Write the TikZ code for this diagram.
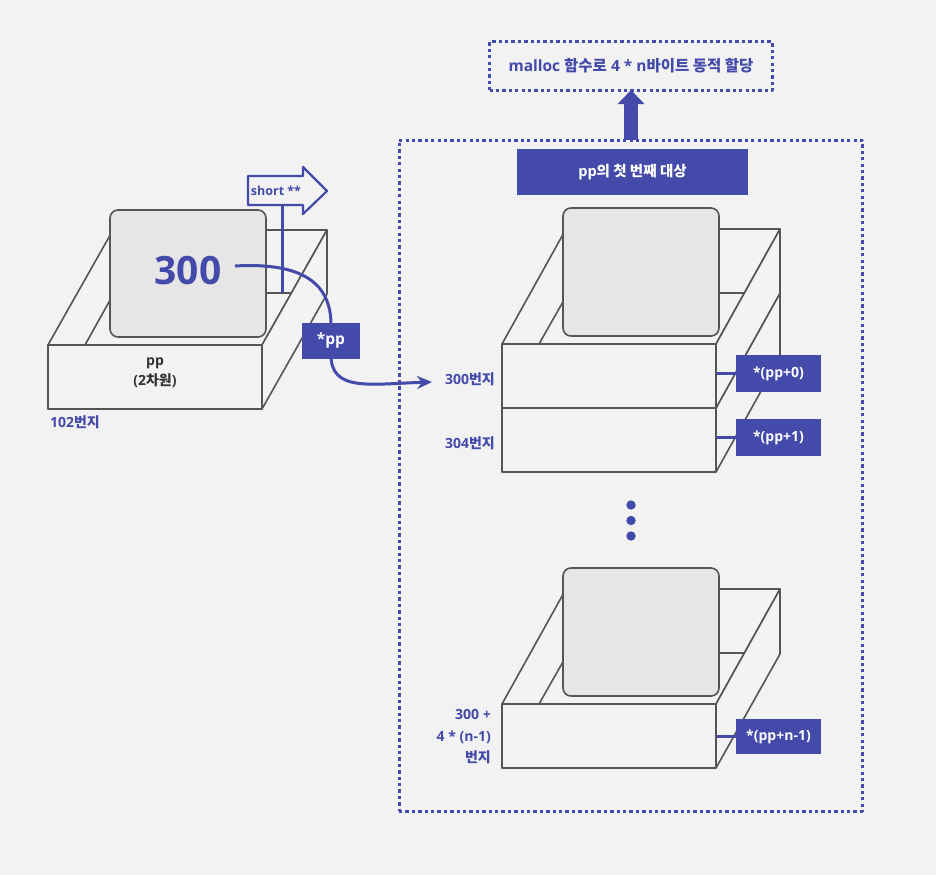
\documentclass[tikz,border=0pt]{standalone}
\usepackage{fontspec}
\setmainfont{Open Sans}
\newfontfamily\kr{Noto Sans CJK KR}
\usetikzlibrary{arrows.meta}
\definecolor{bg}{HTML}{F2F2F2}
\definecolor{facefill}{HTML}{F3F3F3}
\definecolor{cardfill}{HTML}{E6E6E6}
\definecolor{edge}{HTML}{555555}
\definecolor{ink}{HTML}{434AAA}
\definecolor{dark}{HTML}{333333}
\tikzset{
  wire/.style={draw=edge, line width=1.6pt},
  face/.style={draw=edge, fill=facefill, line width=1.6pt},
  card/.style={draw=edge, fill=cardfill, line width=1.6pt, rounded corners=8pt, inner sep=0pt},
  frontbox/.style={draw=edge, fill=facefill, line width=1.6pt, inner sep=0pt, minimum width=214pt, minimum height=64pt},
  tag/.style={fill=ink, text=white, font=\bfseries\fontsize{14}{16}\selectfont, inner sep=0pt, minimum width=85pt, minimum height=37pt},
  dotline/.style={draw=ink, line width=3pt, dash pattern=on 3.3pt off 3.1pt},
  lbl/.style={text=ink, font=\bfseries\fontsize{14}{21.5}\selectfont, inner sep=0pt},
  link/.style={draw=ink, line width=3.2pt},
}
\begin{document}
\begin{tikzpicture}[x=1pt,y=-1pt,line join=round]
\useasboundingbox[fill=bg] (0,0) rectangle (936,875);

% ---------- left box (pp) ----------
\draw[face] (48,345) -- (113,230) -- (327,230) -- (262,345) -- cycle;
\draw[wire] (85,345) -- (114,293) -- (291,293);
\draw[face] (262,345) -- (327,230) -- (327,294) -- (262,409) -- cycle;
\node (lfront) [frontbox, minimum width=214pt, minimum height=64pt] at (155,377) {};
\node (lcard) [card, minimum width=156pt, minimum height=127pt] at (188,273.5) {};
\node (v300) at (188,271) [text=ink, font=\bfseries\fontsize{39}{40}\selectfont, inner sep=0pt] {300};
\node (ppname) at (155,373) [align=center, text=dark, font=\bfseries\fontsize{14}{20}\selectfont] {pp\\(2{\kr 차원})};
\node (addr102) at (75,422) [lbl] {102{\kr 번지}};

% signpost
\coordinate (poletop) at (282,205);
\coordinate (polebot) at (282,293);
\draw[ink, line width=3pt] (poletop) -- (polebot);
\draw[ink, line width=2.2pt, fill=bg] (248,176) -- (303,176) -- (303,167) -- (327,191) -- (303,214) -- (303,205) -- (248,205) -- cycle;
\node (sign) at (276,190.5) [text=ink, font=\bfseries\fontsize{12.5}{14}\selectfont, inner sep=0pt] {short **};

% ---------- right container ----------
\node (cont) [dotline, minimum width=463pt, minimum height=671pt, inner sep=0pt] at (630.5,475.5) {};
\node (mal) [dotline, minimum width=283pt, minimum height=48pt, inner sep=0pt, text=ink, font=\bfseries\fontsize{15.5}{18}\selectfont] at (631,66) {malloc {\kr 함수로} 4 * n{\kr 바이트 동적 할당}};
\coordinate (arrbase) at (631,140);
\draw[ink, line width=14pt, -{Triangle[length=14pt,width=26pt]}] (arrbase) -- ([yshift=1.5pt]mal.south);
\node (first) [tag, minimum width=231pt, minimum height=46pt, font=\bfseries\fontsize{14.5}{16}\selectfont] at (632.5,172) {pp{\kr 의 첫 번째 대상}};

% box 0 / 1
\draw[face] (502,344) -- (566,229) -- (780,229) -- (716,344) -- cycle;
\draw[wire] (539,344) -- (568,293) -- (745,293);
\draw[face] (716,408) -- (780,293) -- (780,357) -- (716,472) -- cycle;
\draw[face] (716,344) -- (780,229) -- (780,293) -- (716,408) -- cycle;
\node (f0) [frontbox] at (609,376) {};
\node (f1) [frontbox] at (609,440) {};
\node (c0) [card, minimum width=156pt, minimum height=128pt] at (641,272) {};

% box n-1
\draw[face] (502,704) -- (566,589) -- (780,589) -- (716,704) -- cycle;
\draw[wire] (539,704) -- (568,653) -- (745,653);
\draw[face] (716,704) -- (780,589) -- (780,654) -- (716,768) -- cycle;
\node (fn) [frontbox] at (609,736) {};
\node (cn) [card, minimum width=156pt, minimum height=128pt] at (641,632) {};

% tags
\node (t0) [tag] at (778.5,373.5) {*(pp+0)};
\node (t1) [tag] at (778.5,437.5) {*(pp+1)};
\node (tn) [tag, minimum height=35pt] at (778.5,736.5) {*(pp+n-1)};
\draw[link] (t0.west -| f0.east) -- (t0.west);
\draw[link] (t1.west -| f1.east) -- (t1.west);
\draw[link] (tn.west -| fn.east) -- (tn.west);

% address labels
\node (l300) [lbl, anchor=east] at (495,379) {300{\kr 번지}};
\node (l304) [lbl, anchor=east] at (495,443) {304{\kr 번지}};
\node (ln) [lbl, anchor=east, align=right] at (491,737) {300 +\\4 * (n-1)\\{\kr 번지}};

% dots
\fill[ink] (631,505) circle (4.7pt) (631,520.5) circle (4.7pt) (631,536) circle (4.7pt);

% pointer curve
\coordinate (cstart) at (235,266);
\coordinate (tip) at (432,382);
\draw[ink, line width=3pt, -{Stealth[length=15pt,width=13pt]}] (cstart) .. controls (305,262) and (331,285) .. (331,325) -- (331,355) .. controls (331,392) and (370,384) .. (tip);
\node (ppt) [tag, minimum width=58pt, minimum height=36pt, font=\bfseries\fontsize{15.5}{17}\selectfont] at (331,340.5) {*pp};
\end{tikzpicture}
\end{document}
